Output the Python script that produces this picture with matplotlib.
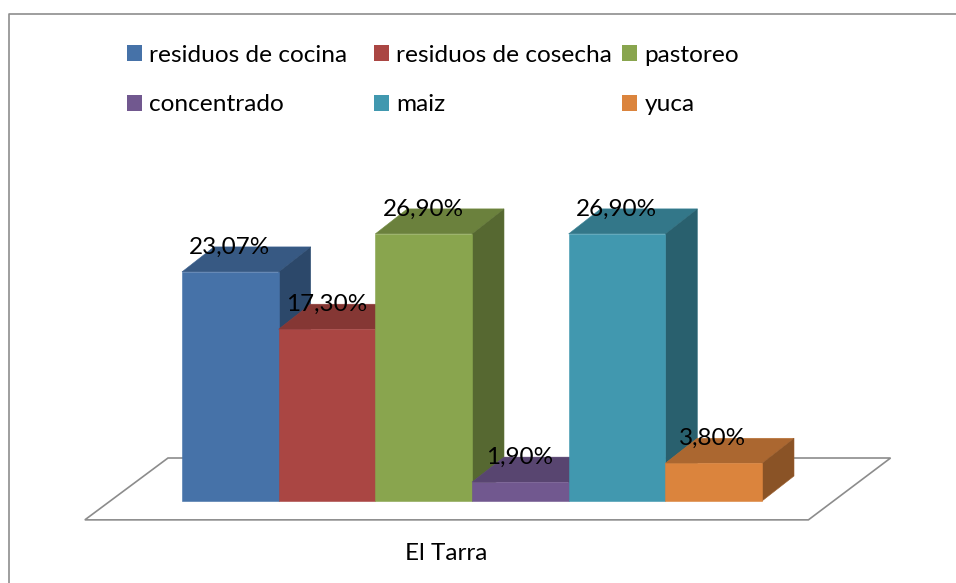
import matplotlib
matplotlib.use('Agg')
import matplotlib.pyplot as plt
from matplotlib.colors import to_rgb
from matplotlib.lines import Line2D
from matplotlib.patches import Patch, Polygon

categories = ['residuos de cocina', 'residuos de cosecha', 'pastoreo', 'concentrado', 'maiz', 'yuca']
values = [23.07, 17.30, 26.90, 1.90, 26.90, 3.80]
value_labels = ['23,07%', '17,30%', '26,90%', '1,90%', '26,90%', '3,80%']
colors = ['#4672A8', '#AA4643', '#89A54E', '#71588F', '#4198AF', '#DB843D']
group_label = 'El Tarra'

W, H = 956, 583
plt.rcParams['font.family'] = ['Lato', 'DejaVu Sans']


def shade(color, factor):
    return tuple(c * factor for c in to_rgb(color))


fig = plt.figure(figsize=(W / 100, H / 100), dpi=100)

# Axes spans the front faces of the bars, the rest is drawn unclipped around it
ymax = 30
ax = fig.add_axes([182 / W, 1 - 501 / H, 580 / W, 297.9 / H])
ax.set_xlim(0, 6)
ax.set_ylim(0, ymax)
ax.axis('off')

# Depth of the fake 3D, in data units
dx = 32 / (580 / 6)
dy = 25 / (297.9 / ymax)

# Chart frame, runs off the page at right and bottom
fig.add_artist(Line2D([8.5 / W, 8.5 / W, 1], [0, 1 - 14 / H, 1 - 14 / H], color='#8E8E8E', lw=1.2))

# Floor
floor = Polygon([(-1.005, -1.9), (6.48, -1.9), (7.33, 4.33), (-0.145, 4.33)], closed=True,
                facecolor='white', edgecolor='#8C8C8C', lw=1.2, clip_on=False, zorder=1)
ax.add_patch(floor)

for i, (v, c) in enumerate(zip(values, colors)):
    z = 2 + i
    top = Polygon([(i, v), (i + 1, v), (i + 1 + dx, v + dy), (i + dx, v + dy)], closed=True,
                  facecolor=shade(c, 0.78), edgecolor=shade(c, 0.85), lw=0.4, clip_on=False, zorder=z)
    side = Polygon([(i + 1, 0), (i + 1 + dx, dy), (i + 1 + dx, v + dy), (i + 1, v)], closed=True,
                   facecolor=shade(c, 0.63), edgecolor=shade(c, 0.7), lw=0.4, clip_on=False, zorder=z)
    ax.add_patch(top)
    ax.add_patch(side)
    ax.bar(i + 0.5, v, width=1, color=c, edgecolor=c, lw=0.4, zorder=z, clip_on=False)

for i, (v, t) in enumerate(zip(values, value_labels)):
    ax.annotate(t, (i + 0.5, v), xytext=(-0.5, 18), textcoords='offset points', ha='center', va='center',
                fontsize=17.5, color='black', zorder=20, annotation_clip=False)

fig.text(446 / W, 1 - 554 / H, group_label, ha='center', va='center', fontsize=17.5, color='black')

# Legend columns are equally spaced in the reference, so one legend per column
handles = [Patch(facecolor=c, edgecolor='none', label=n) for n, c in zip(categories, colors)]
legend_x = [127, 374, 622]
for col, x in enumerate(legend_x):
    fig.legend([handles[col], handles[col + 3]], [categories[col], categories[col + 3]],
               loc='upper left', bbox_to_anchor=(x / W, 1 - 45 / H), frameon=False,
               fontsize=17.6, handlelength=0.62, handleheight=0.62, handletextpad=0.3,
               labelspacing=1.16, borderaxespad=0, borderpad=0)

fig.savefig('out.png', dpi=100)
